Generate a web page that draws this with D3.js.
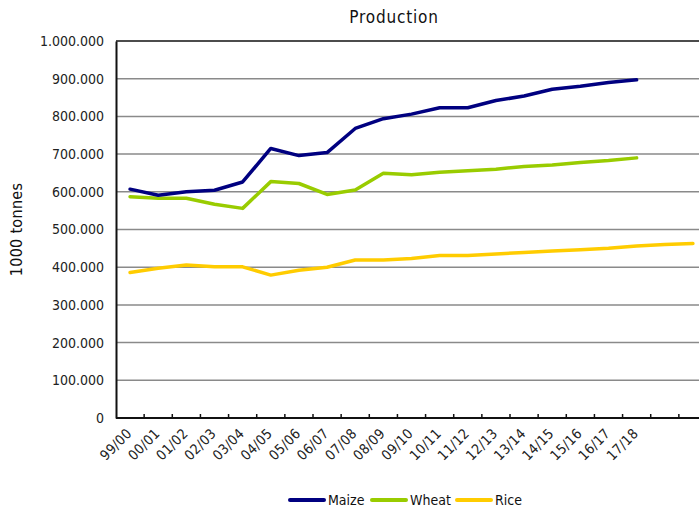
<!DOCTYPE html>
<html>
<head>
<meta charset="utf-8">
<script src="https://cdn.jsdelivr.net/npm/d3@7"></script>
<style>
  html, body { margin: 0; padding: 0; background: #fff; }
  svg { display: block; font-family: "DejaVu Sans Condensed", "DejaVu Sans", sans-serif; }
</style>
</head>
<body>
<svg id="chart" width="699" height="511"></svg>
<script>
// Marketing seasons (the last two slots have no label)
const seasons = ["99/00", "00/01", "01/02", "02/03", "03/04", "04/05", "05/06", "06/07",
  "07/08", "08/09", "09/10", "10/11", "11/12", "12/13", "13/14", "14/15", "15/16",
  "16/17", "17/18", "", ""];

// Production in 1000 tonnes
const maize = [607000, 591000, 600000, 604000, 626000, 715000, 696000, 704000, 768000, 794000,
  806000, 823000, 823000, 842000, 854000, 872000, 880000, 890000, 897000];
const wheat = [587000, 583000, 583000, 567000, 556000, 627000, 622000, 593000, 605000, 649000,
  645000, 652000, 656000, 660000, 667000, 671000, 678000, 683000, 690000];
const rice = [386000, 397000, 406000, 401000, 401000, 379000, 392000, 400000, 419000, 419000,
  423000, 431000, 431000, 435000, 439000, 443000, 446000, 450000, 456000, 460000, 463000];

const yTicks = [0, 100000, 200000, 300000, 400000, 500000, 600000, 700000, 800000, 900000, 1000000];

const series = [
  { name: "Maize", values: maize, color: "#000080" },
  { name: "Wheat", values: wheat, color: "#99cc00" },
  { name: "Rice", values: rice, color: "#ffcc00" }
];

const svg = d3.select("#chart");
const plotLeft = 116, plotTop = 41, plotBottom = 418, plotRight = 707;

const x = d3.scaleBand().domain(d3.range(seasons.length)).range([plotLeft, plotRight]).padding(0);
const y = d3.scaleLinear().domain([0, 1000000]).range([plotBottom, plotTop]);
const fmt = d3.formatLocale({ decimal: ",", thousands: ".", grouping: [3], currency: ["", ""] }).format(",");

// Title
svg.append("text")
  .attr("x", 394).attr("y", 23)
  .attr("text-anchor", "middle")
  .attr("font-size", 17)
  .attr("letter-spacing", 0.8)
  .attr("fill", "#111")
  .text("Production");

// Horizontal gridlines
svg.append("g")
  .selectAll("line")
  .data(yTicks.filter(d => d > 0 && d < 1000000))
  .join("line")
  .attr("x1", plotLeft).attr("x2", plotRight)
  .attr("y1", d => y(d)).attr("y2", d => y(d))
  .attr("stroke", "#8a8a8a").attr("stroke-width", 1.5);

// Top border of the plot area
svg.append("line")
  .attr("x1", plotLeft).attr("x2", plotRight)
  .attr("y1", y(1000000)).attr("y2", y(1000000))
  .attr("stroke", "#111").attr("stroke-width", 1.5);

// Y axis
const yAxis = svg.append("g")
  .attr("transform", `translate(${plotLeft},0)`)
  .call(d3.axisLeft(y).tickValues(yTicks).tickFormat(fmt).tickSize(0).tickPadding(12));
yAxis.select(".domain").attr("stroke", "#111").attr("stroke-width", 2);
yAxis.selectAll("text").attr("font-size", 14).attr("fill", "#222")
  .attr("font-family", "DejaVu Sans Condensed, DejaVu Sans, sans-serif");

// Y axis title
svg.append("text")
  .attr("transform", `translate(22,${(plotTop + plotBottom) / 2}) rotate(-90)`)
  .attr("text-anchor", "middle")
  .attr("font-size", 16)
  .attr("letter-spacing", 0.3)
  .attr("fill", "#111")
  .text("1000 tonnes");

// X axis line with inward ticks at category boundaries
const xg = svg.append("g");
xg.append("line")
  .attr("x1", plotLeft).attr("x2", plotRight)
  .attr("y1", plotBottom).attr("y2", plotBottom)
  .attr("stroke", "#111").attr("stroke-width", 2);
xg.selectAll("line.tick")
  .data(d3.range(1, seasons.length + 1))
  .join("line")
  .attr("class", "tick")
  .attr("x1", i => x(0) + i * x.bandwidth())
  .attr("x2", i => x(0) + i * x.bandwidth())
  .attr("y1", plotBottom).attr("y2", plotBottom - 4)
  .attr("stroke", "#111").attr("stroke-width", 1.5);
xg.selectAll("text")
  .data(seasons.map((s, i) => ({ s, i })).filter(d => d.s))
  .join("text")
  .attr("transform", d => `translate(${x(d.i) + x.bandwidth() / 2 - 1},${plotBottom + 13}) rotate(-45)`)
  .attr("text-anchor", "end")
  .attr("dy", "0.35em")
  .attr("font-size", 14)
  .attr("letter-spacing", 0.3)
  .attr("fill", "#222")
  .text(d => d.s);

// Series lines
const line = d3.line()
  .x((d, i) => x(i) + x.bandwidth() / 2)
  .y(d => y(d));

svg.append("g")
  .selectAll("path")
  .data(series.slice().reverse())
  .join("path")
  .attr("d", d => line(d.values))
  .attr("fill", "none")
  .attr("stroke", d => d.color)
  .attr("stroke-width", 3.5)
  .attr("stroke-linejoin", "round")
  .attr("stroke-linecap", "round");

// Legend
const legendX = [290, 372, 457];
const lg = svg.append("g");
series.forEach((s, k) => {
  const g = lg.append("g").attr("transform", `translate(${legendX[k]},500)`);
  g.append("line")
    .attr("x1", 0).attr("x2", 34).attr("y1", 0).attr("y2", 0)
    .attr("stroke", s.color).attr("stroke-width", 4).attr("stroke-linecap", "round");
  g.append("text")
    .attr("x", 38).attr("y", 0).attr("dy", "0.35em")
    .attr("font-size", 14).attr("fill", "#111")
    .text(s.name);
});
</script>
</body>
</html>
